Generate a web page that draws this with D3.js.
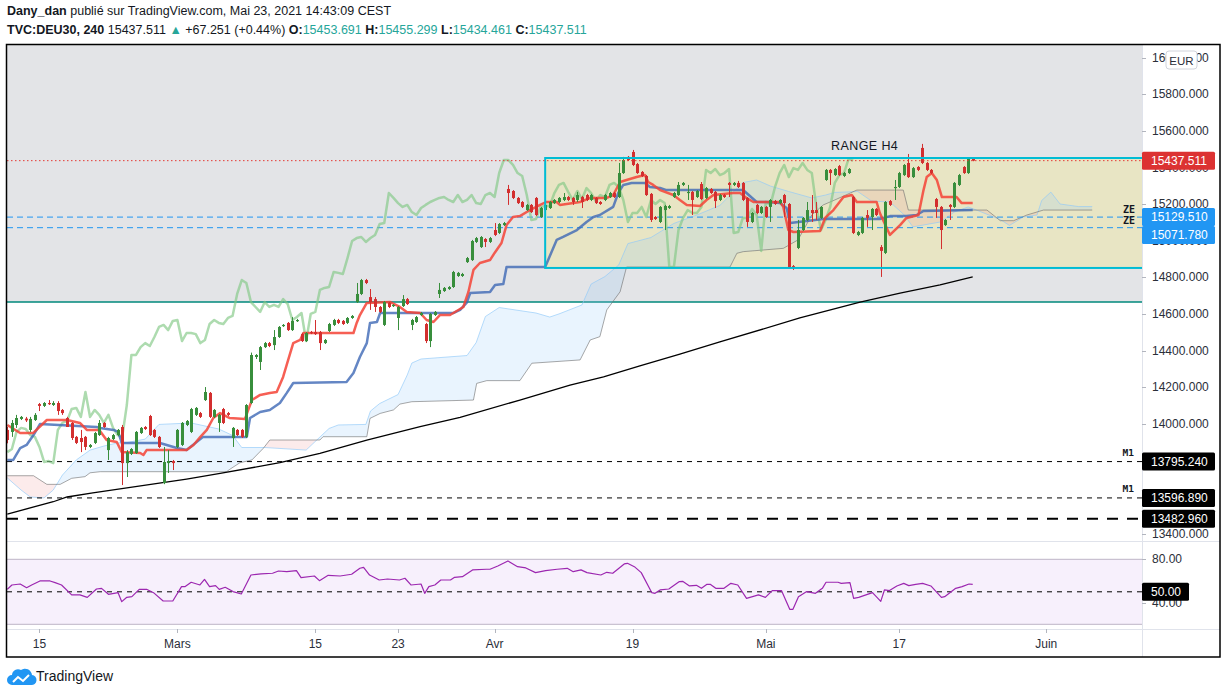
<!DOCTYPE html>
<html>
<head>
<meta charset="utf-8">
<title>TVC:DEU30 240</title>
<script src="https://cdn.jsdelivr.net/npm/d3@7/dist/d3.min.js"></script>
<style>
html,body{margin:0;padding:0;background:#fff;}
svg{display:block;}
</style>
</head>
<body>
<svg id="chart" width="1227" height="695"></svg>
<script>
// ---------------- DATA ----------------
const opens = [13968,13957,13995,14028,14030,13968,14022,14109,14099,14115,
14104,14115,14077,14033,14006,13930,13924,13930,13875,13897,
13940,14006,13858,13918,13940,13984,13787,13837,13842,13951,
13984,14044,13968,13930,13678,13787,13798,13875,13886,13995,
13957,14050,14060,14131,14170,14039,14006,14082,14060,13924,
13968,13968,13930,14115,14366,14339,14420,14442,14431,14475,
14535,14552,14513,14563,14491,14453,14502,14502,14502,14442,
14508,14541,14568,14563,14552,14579,14666,14710,14786,14693,
14682,14639,14541,14661,14645,14579,14644,14682,14541,14557,
14595,14546,14453,14595,14710,14726,14737,14748,14808,14808,
14884,14895,14994,14966,15010,14994,15059,15043,15086,15283,
15272,15234,15212,15168,15196,15234,15130,15168,15179,15206,
15212,15223,15239,15234,15223,15239,15250,15223,15234,15212,
15223,15239,15261,15239,15370,15458,15485,15419,15376,15354,
15256,15130,15103,15168,15179,15239,15250,15305,15261,15267,
15239,15310,15234,15283,15267,15223,15250,15316,15305,15316,
15316,15234,15103,15196,15152,15185,15185,15217,15206,15250,
15201,14862,14961,15059,15114,15168,15168,15125,15332,15387,
15359,15408,15354,15370,15239,15032,15043,15141,15130,15174,
14966,14934,15217,15288,15294,15359,15425,15348,15403,15507,
15425,15387,15228,15185,15086,15196,15185,15305,15403,15370,
15453.691];
const highs = [13984,14022,14050,14044,14039,14039,14060,14115,14120,14131,
14125,14125,14082,14039,14011,13935,13968,13935,13891,13957,
14022,14011,13930,13946,13973,13995,13858,13869,13962,13984,
13989,14050,13973,13935,13875,13858,13804,13973,14011,14022,
14088,14093,14066,14202,14175,14082,14055,14088,14066,13984,
13973,13973,14109,14390,14382,14426,14448,14448,14513,14535,
14546,14557,14584,14574,14497,14502,14508,14568,14508,14464,
14552,14574,14574,14568,14584,14595,14770,14792,14792,14737,
14693,14644,14672,14666,14655,14644,14704,14688,14574,14590,
14612,14552,14606,14617,14770,14748,14753,14836,14830,14825,
14912,15005,15021,15026,15015,15021,15097,15097,15103,15305,
15277,15239,15217,15201,15201,15239,15185,15201,15217,15228,
15239,15261,15245,15239,15267,15245,15256,15256,15239,15217,
15256,15267,15267,15425,15458,15463,15496,15425,15381,15359,
15261,15135,15190,15196,15196,15267,15321,15321,15305,15272,
15277,15321,15294,15288,15272,15256,15256,15321,15321,15327,
15321,15239,15157,15201,15190,15190,15228,15223,15228,15256,
15206,14868,15114,15130,15212,15250,15212,15190,15392,15392,
15397,15414,15376,15397,15245,15054,15130,15168,15179,15179,
14977,15217,15223,15332,15376,15419,15474,15403,15408,15529,
15430,15392,15234,15190,15119,15201,15321,15365,15408,15452,
15455.299];
const lows = [13895,13930,13979,14022,14011,13957,14017,14071,14093,14104,
14099,14050,14050,13984,13913,13891,13847,13858,13869,13891,
13935,13979,13804,13913,13935,13667,13711,13831,13837,13946,
13968,13935,13924,13869,13672,13733,13749,13869,13880,13989,
13951,14044,14033,14126,14033,14033,13957,14000,14044,13875,
13935,13924,13924,14109,14355,14295,14415,14420,14404,14470,
14530,14508,14508,14557,14448,14448,14491,14486,14404,14437,
14502,14535,14546,14541,14546,14574,14661,14704,14764,14623,
14612,14606,14535,14633,14639,14513,14639,14650,14513,14552,
14590,14442,14420,14590,14688,14721,14732,14743,14803,14803,
14879,14890,14988,14961,14966,14988,15026,15037,15081,15196,
15228,15201,15179,15163,15152,15135,15125,15163,15174,15201,
15206,15217,15217,15196,15212,15179,15217,15217,15201,15196,
15217,15234,15234,15234,15365,15436,15408,15365,15348,15245,
15103,15114,15097,15059,15174,15234,15245,15299,15223,15141,
15234,15223,15228,15256,15179,15217,15234,15239,15299,15288,
15217,15076,15097,15146,15146,15125,15103,15196,15201,15130,
14852,14841,14955,15054,15108,15103,15114,15119,15327,15305,
15354,15354,15348,15365,15037,15026,15037,15076,15059,15135,
14803,14928,15190,15223,15288,15354,15343,15343,15381,15419,
15381,15365,15125,14955,15081,15114,15179,15299,15365,15365,
15434.461];
const closes = [13913,14006,14033,14039,14020,14028,14050,14099,14115,14109,
14115,14071,14060,13984,13924,13897,13902,13875,13886,13951,
14006,13984,13924,13940,13968,13787,13847,13864,13957,13979,
13973,13940,13930,13875,13793,13798,13787,13968,14006,14017,
14082,14088,14039,14175,14039,14077,14050,14006,14050,13979,
13940,13930,14104,14377,14377,14420,14442,14426,14475,14530,
14541,14513,14563,14568,14453,14497,14497,14491,14442,14459,
14546,14568,14552,14546,14579,14590,14710,14786,14770,14666,
14639,14612,14666,14639,14650,14639,14682,14655,14568,14584,
14606,14453,14601,14612,14732,14743,14748,14830,14825,14819,
14906,14999,15015,15021,14994,15015,15032,15092,15097,15261,
15234,15206,15185,15196,15157,15141,15179,15196,15212,15223,
15234,15239,15223,15212,15250,15212,15223,15250,15206,15201,
15250,15261,15239,15370,15441,15441,15414,15370,15354,15250,
15114,15119,15185,15190,15190,15261,15305,15316,15267,15223,
15272,15228,15288,15261,15217,15250,15239,15305,15316,15294,
15223,15103,15152,15152,15185,15130,15223,15201,15223,15206,
14857,14857,15059,15125,15168,15152,15152,15185,15387,15370,
15392,15359,15370,15392,15043,15048,15125,15125,15174,15141,
14945,15212,15196,15294,15370,15414,15348,15397,15387,15425,
15387,15370,15185,15059,15114,15185,15316,15359,15370,15447,
15437.511];

// Ichimoku lines, read as [bar index, price]
const tenkan = [[0,13995],[2.8,13951],[5.6,13951],[8.6,14022],[13,14022],[15.8,14006],[17.3,13968],[20,13968],[21.6,13913],[23.8,13902],[24.9,13847],[28.9,13842],[29.6,13831],[30.3,13858],[39,13858],[40.5,13886],[42,13930],[43.4,13968],[44.8,14033],[46.3,14060],[48.4,14033],[51.7,14028],[53.2,14131],[55,14159],[57.1,14170],[58.6,14175],[60,14257],[61.1,14350],[62.2,14442],[63.7,14459],[64.4,14497],[75.3,14497],[76,14552],[76.7,14595],[78.2,14661],[83.3,14666],[85.4,14639],[86.9,14612],[89.8,14606],[91.2,14568],[92.7,14557],[94.1,14595],[96.3,14595],[99.2,14639],[100.3,14721],[101.4,14841],[102.8,14879],[105,14895],[106,14934],[107.5,14988],[108.6,15086],[110,15130],[111.5,15135],[113.7,15168],[115.9,15196],[117.3,15212],[119.5,15212],[120.2,15196],[124.6,15212],[126.8,15234],[130.4,15234],[131.8,15250],[133.3,15321],[134.7,15332],[136.9,15348],[138.7,15359],[139.4,15321],[140.5,15305],[142,15277],[144.9,15250],[146.3,15223],[147.8,15196],[150.7,15190],[152.1,15223],[153.6,15250],[157.9,15261],[159.4,15261],[160.8,15234],[162.3,15212],[168.1,15212],[168.8,15185],[169.9,15059],[171,15048],[176.8,15054],[177.9,15125],[179.7,15168],[181.9,15239],[183.7,15250],[184.8,15212],[189.1,15212],[189.8,15152],[192,15032],[194.2,15086],[195.6,15125],[198.2,15141],[199.3,15277],[200,15348],[201.1,15370],[202.2,15332],[203.3,15239],[206.5,15239],[207.6,15206],[210,15206]];
const kijun = [[0,13804],[1.3,13804],[2.8,13869],[4.2,13886],[5.7,13940],[7.1,14000],[19.4,13984],[20.2,13979],[23.1,13968],[24.1,13957],[24.9,13897],[33.2,13897],[36.9,13869],[39,13858],[42.6,13930],[52.1,13930],[52.8,14033],[55,14066],[57.1,14077],[59.3,14115],[60.8,14170],[62.2,14224],[73.8,14230],[75.3,14279],[76.7,14366],[78.2,14442],[78.9,14552],[80.4,14557],[81.1,14606],[97,14606],[98.5,14623],[99.9,14661],[100.7,14715],[105,14721],[106.1,14759],[107.9,14764],[108.6,14857],[117,14857],[119.5,15005],[120.9,15021],[123.9,15059],[126,15103],[127.5,15130],[128.9,15141],[131.8,15185],[132.9,15261],[134,15305],[135.8,15316],[138.7,15316],[139.8,15294],[142,15288],[143.4,15277],[160.1,15277],[160.8,15261],[163,15212],[165.2,15212],[168.1,15206],[169.5,15179],[170.3,15097],[177.5,15119],[189.8,15119],[192,15135],[195.6,15135],[197.8,15141],[199.3,15163],[210,15168]];
const senkouA = [[0,13706],[3,13640],[5,13602],[8,13597],[10,13640],[12,13722],[15,13804],[18,13858],[21,13880],[24,13897],[26,13899],[30,13918],[33,13998],[40,14006],[46,13973],[49,13938],[51,13872],[56,13872],[65,13858],[68,13929],[70,13976],[72,13995],[78,13998],[79,14071],[81,14112],[85,14161],[87,14268],[88,14333],[90,14355],[100,14374],[102,14445],[104,14587],[107,14636],[115,14606],[118,14584],[120,14601],[125,14650],[127,14764],[130,14805],[133,14868],[135,14985],[140,15018],[145,15095],[150,15141],[155,15193],[160,15318],[163,15332],[166,15299],[170,15269],[175,15234],[178,15250],[180,15264],[185,15269],[188,15217],[192,15212],[195,15144],[197,15076],[203,15103],[206,15157],[209,15185],[211,15166],[216,15116],[218,15084],[221,15130],[224,15141],[225,15220],[227,15266],[229,15201],[233,15187],[236,15187]];
const senkouB = [[0,13718],[5.7,13718],[8.6,13671],[11.5,13671],[14,13704],[16.9,13713],[18,13734],[20.2,13740],[47.7,13740],[48.4,13753],[50.6,13789],[53.2,13804],[55.7,13868],[57.1,13913],[68,13913],[68.7,13931],[78.2,13931],[78.9,14031],[81.1,14058],[84,14077],[85.4,14109],[88,14122],[101.4,14131],[102.1,14222],[104.3,14237],[111.5,14237],[114.1,14332],[124.6,14350],[126.8,14459],[128.9,14477],[130.4,14623],[133.3,14722],[134.7,14857],[157.2,14857],[158.7,14932],[160.1,14941],[168.8,14959],[172,15005],[175,15141],[177.5,15196],[180,15223],[184.8,15277],[194.9,15277],[196,15168],[213.1,15168],[216,15110],[218.9,15110],[221.8,15141],[225.4,15168],[236,15168]];
const movingAvg = [[0,13509],[10,13576],[13,13602],[18.6,13624],[39,13700],[46.3,13731],[59.3,13789],[68,13840],[78.2,13913],[89.8,13986],[98.5,14037],[111.5,14131],[122.4,14213],[129.7,14258],[137.6,14317],[146.3,14382],[155,14448],[172.4,14579],[185.5,14666],[194.2,14715],[202.9,14759],[210,14803]];
const rsi = [[0,52.3],[1,56.3],[2.8,57.2],[4.2,53.8],[5.3,56.3],[7.1,60],[9.3,60],[10.4,58.5],[11.8,56.3],[14,47.1],[15.8,47.1],[17.4,44.9],[19.4,52.6],[20.5,53.2],[22,47.7],[24.1,49.2],[24.9,40.9],[26,44.9],[27.1,45.5],[28.7,52.3],[30.3,52.3],[31.8,49.2],[33.9,41.5],[36,41.5],[37.9,54.8],[38.7,54.8],[40,58.8],[41.9,56.3],[42.9,61.5],[44,54.8],[45.3,55.7],[46.1,52.3],[47.4,54.2],[49.1,50.2],[50.9,48],[53,65.5],[55.2,66.5],[57.7,67.1],[59,69.2],[60.8,68.6],[62.9,69.5],[63.9,63.1],[66.8,64.6],[67.9,60.3],[69.8,65.2],[72.4,64.6],[74.9,66.2],[76.7,71.7],[77.5,72.6],[78.8,65.5],[80.9,60.9],[82.7,61.8],[85.3,60.9],[86.5,62.5],[87.8,56.3],[90,57.2],[90.8,48.6],[91.7,54.8],[93,56.3],[94.3,60.9],[96.4,60.9],[97.3,63.4],[99,64],[101.2,70.2],[104.2,70.8],[105,70.8],[106.7,73.8],[108.9,78.5],[111,73.2],[112.8,72],[114.9,67.7],[117.1,69.5],[119.6,70.8],[121.8,71.7],[123.1,68.6],[124.8,70.2],[126.1,67.7],[129.1,65.5],[130.4,68],[131.7,67.1],[134.2,75.7],[134.9,76.3],[136.4,73.2],[137.9,67.7],[140.2,49.2],[140.9,48.6],[142,51.7],[143.9,52.6],[146.2,59.4],[146.9,59.7],[148.4,55.4],[149.9,56],[151,53.2],[152.2,56.9],[152.9,56.9],[154.1,53.2],[155.9,53.2],[157.4,57.8],[158.9,56.3],[160.8,44],[163.4,47.1],[164.9,44.9],[166.4,51.1],[168.4,51.1],[170.2,33.8],[170.9,33.8],[172.1,45.5],[173.9,50.2],[175.8,48.6],[177.3,53.2],[178.1,58.8],[180.7,58.8],[181.4,57.8],[183.3,58.5],[184.1,44],[185.2,44.9],[188.2,49.2],[190,41.2],[190.8,51.7],[191.9,51.1],[193.5,55.4],[195,57.8],[196.1,55.7],[197.6,56.9],[199.1,57.8],[200.9,55.4],[203.2,44.9],[203.9,45.5],[206.3,53.2],[207.7,54.8],[209.2,57.2],[210,56.9]];

// drawings
const rangeBox = {start: 117, top: 15452, bottom: 14852, label: "RANGE H4", labelBar: 186.5, labelPrice: 15512};
const grayZoneBottom = 14666;
const zeLevels = [15129.51, 15071.78];
const m1Levels = [13795.24, 13596.89];
const thickLevel = 13482.96;
const lastPrice = 15437.511;
const priceTicks = d3.range(13400, 16001, 200);
const rsiTicks = [80, 40];
const timeLabels = ["15","Mars","15","23","Avr","19","Mai","17","Juin"];
const timeLabelBars = [7, 37, 67, 85, 106, 136, 165, 194, 226];

// ---------------- LAYOUT ----------------
const L = 7, R = 1142, TOP = 45, MAINB = 541, RSIB = 629, BOT = 657, RIGHT = 1220;
const FONT = "'Liberation Sans', Arial, sans-serif";
const UP = "#388e3c", DN = "#d32f2f";

const x = d3.scaleLinear().domain([0, 210]).range([7.3, 972.7]);
const y = d3.scaleLinear().domain([13400, 16000]).range([534, 57.6]);
const yr = d3.scaleLinear().domain([20, 80]).range([624.3, 559.3]);

const svg = d3.select("#chart").style("font-family", FONT);
svg.append("rect").attr("width", 1227).attr("height", 695).attr("fill", "#fff");

const defs = svg.append("defs");
defs.append("clipPath").attr("id", "mainClip").append("rect")
  .attr("x", L).attr("y", TOP).attr("width", R - L).attr("height", MAINB - TOP);
defs.append("clipPath").attr("id", "rsiClip").append("rect")
  .attr("x", L).attr("y", MAINB).attr("width", R - L).attr("height", RSIB - MAINB);
const areaToTop = d3.area().x(d => x(d[0])).y0(TOP - 30).y1(d => y(d[1]));
const areaToBottom = d3.area().x(d => x(d[0])).y0(MAINB + 30).y1(d => y(d[1]));
defs.append("clipPath").attr("id", "aboveB").append("path").attr("d", areaToTop(senkouB));
defs.append("clipPath").attr("id", "aboveA").append("path").attr("d", areaToTop(senkouA));

const line = d3.line().x(d => x(d[0])).y(d => y(d[1]));

const main = svg.append("g").attr("clip-path", "url(#mainClip)");

// gray zone drawing
main.append("rect").attr("x", L).attr("y", TOP).attr("width", R - L)
  .attr("height", y(grayZoneBottom) - TOP).attr("fill", "#e3e4e7");
main.append("line").attr("x1", L).attr("x2", R).attr("y1", y(grayZoneBottom)).attr("y2", y(grayZoneBottom))
  .attr("stroke", "#00897b").attr("stroke-width", 1.5);

// range box fill
main.append("rect").attr("x", x(rangeBox.start)).attr("y", y(rangeBox.top))
  .attr("width", R + 10 - x(rangeBox.start)).attr("height", y(rangeBox.bottom) - y(rangeBox.top))
  .attr("fill", "rgba(255,235,59,0.2)");

// cloud
main.append("path").attr("d", areaToBottom(senkouA)).attr("fill", "rgba(144,202,249,0.2)").attr("clip-path", "url(#aboveB)");
main.append("path").attr("d", areaToBottom(senkouB)).attr("fill", "rgba(239,154,154,0.2)").attr("clip-path", "url(#aboveA)");
main.append("path").attr("d", line(senkouA)).attr("fill", "none").attr("stroke", "rgba(144,202,249,0.65)").attr("stroke-width", 1);
main.append("path").attr("d", line(senkouB)).attr("fill", "none").attr("stroke", "rgba(110,110,110,0.6)").attr("stroke-width", 1);

// moving average
main.append("path").attr("d", line(movingAvg)).attr("fill", "none").attr("stroke", "#000").attr("stroke-width", 1.3);

// horizontal levels
zeLevels.forEach(v => main.append("line").attr("x1", L).attr("x2", R).attr("y1", y(v)).attr("y2", y(v))
  .attr("stroke", "#2196f3").attr("stroke-width", 1).attr("stroke-dasharray", "6,4"));
m1Levels.forEach(v => main.append("line").attr("x1", L).attr("x2", R).attr("y1", y(v)).attr("y2", y(v))
  .attr("stroke", "#000").attr("stroke-width", 1).attr("stroke-dasharray", "5,5"));
main.append("line").attr("x1", L).attr("x2", R).attr("y1", y(thickLevel)).attr("y2", y(thickLevel))
  .attr("stroke", "#000").attr("stroke-width", 2).attr("stroke-dasharray", "11,9");

// chikou (close shifted back 26 bars)
const chikou = d3.range(0, closes.length - 26).map(j => [j, closes[j + 26]]);
main.append("path").attr("d", line(chikou)).attr("fill", "none").attr("stroke", "#81c784")
  .attr("stroke-opacity", 0.65).attr("stroke-width", 2.5).attr("stroke-linejoin", "round");
main.append("path").attr("d", line(kijun)).attr("fill", "none").attr("stroke", "#3d68b5")
  .attr("stroke-opacity", 0.8).attr("stroke-width", 2.5).attr("stroke-linejoin", "round");
main.append("path").attr("d", line(tenkan)).attr("fill", "none").attr("stroke", "#f44336")
  .attr("stroke-opacity", 0.85).attr("stroke-width", 2.5).attr("stroke-linejoin", "round");

// candles
const bars = closes.map((c, i) => ({i, o: opens[i], h: highs[i], l: lows[i], c}));
const cg = main.append("g");
cg.selectAll("line").data(bars).join("line")
  .attr("x1", d => Math.round(x(d.i)) + 0.5).attr("x2", d => Math.round(x(d.i)) + 0.5)
  .attr("y1", d => y(d.h)).attr("y2", d => y(d.l))
  .attr("stroke", d => d.c >= d.o ? UP : DN).attr("stroke-width", 1);
cg.selectAll("rect").data(bars).join("rect")
  .attr("x", d => Math.round(x(d.i)) - 1).attr("width", 3)
  .attr("y", d => y(Math.max(d.o, d.c)))
  .attr("height", d => Math.max(1.2, Math.abs(y(d.o) - y(d.c))))
  .attr("fill", d => d.c >= d.o ? UP : DN);

// range box border
main.append("rect").attr("x", x(rangeBox.start)).attr("y", y(rangeBox.top))
  .attr("width", R + 10 - x(rangeBox.start)).attr("height", y(rangeBox.bottom) - y(rangeBox.top))
  .attr("fill", "none").attr("stroke", "#00bcd4").attr("stroke-width", 2);

// last price dotted line
main.append("line").attr("x1", L).attr("x2", R).attr("y1", y(lastPrice)).attr("y2", y(lastPrice))
  .attr("stroke", "#e53935").attr("stroke-width", 1).attr("stroke-dasharray", "1.5,2.5");

// drawing texts
main.append("text").attr("x", x(rangeBox.labelBar)).attr("y", y(rangeBox.labelPrice))
  .attr("text-anchor", "middle").attr("dominant-baseline", "middle")
  .attr("font-size", 12.5).attr("letter-spacing", 0.4).attr("fill", "#131722").text(rangeBox.label);
zeLevels.forEach(v => main.append("text").attr("x", R - 7).attr("y", y(v) - 4)
  .attr("text-anchor", "end").attr("font-size", 10).attr("font-weight", "bold")
  .attr("font-family", "'DejaVu Sans Mono', monospace").attr("fill", "#131722").text("ZE"));
m1Levels.forEach(v => main.append("text").attr("x", R - 8).attr("y", y(v) - 5.5)
  .attr("text-anchor", "end").attr("font-size", 9.5).attr("font-weight", "bold")
  .attr("font-family", "'DejaVu Sans Mono', monospace").attr("fill", "#131722").text("M1"));

// ---------------- RSI PANE ----------------
const rsiG = svg.append("g").attr("clip-path", "url(#rsiClip)");
rsiG.append("rect").attr("x", L).attr("y", yr(80)).attr("width", R - L).attr("height", yr(20) - yr(80)).attr("fill", "#f7f0fc");
[80, 20].forEach(v => rsiG.append("line").attr("x1", L).attr("x2", R).attr("y1", yr(v)).attr("y2", yr(v))
  .attr("stroke", "#bdb5c6").attr("stroke-width", 1));
rsiG.append("line").attr("x1", L).attr("x2", R).attr("y1", yr(50)).attr("y2", yr(50))
  .attr("stroke", "#000").attr("stroke-width", 1).attr("stroke-dasharray", "5,5");
rsiG.append("path").attr("d", d3.line().x(d => x(d[0])).y(d => yr(d[1]))(rsi))
  .attr("fill", "none").attr("stroke", "#9c27b0").attr("stroke-width", 1.2).attr("stroke-linejoin", "round");

// ---------------- FRAME ----------------
svg.append("line").attr("x1", R + 0.5).attr("x2", R + 0.5).attr("y1", TOP).attr("y2", BOT).attr("stroke", "#e0e3eb");
[MAINB, RSIB].forEach(v => svg.append("line").attr("x1", L).attr("x2", RIGHT).attr("y1", v + 0.5).attr("y2", v + 0.5).attr("stroke", "#e0e3eb"));

// ---------------- PRICE AXIS ----------------
const fmt3 = d3.format(".3f"), fmt2 = d3.format(".2f");
const axG = svg.append("g");
priceTicks.forEach(v => {
  axG.append("line").attr("x1", R).attr("x2", R + 4).attr("y1", Math.round(y(v)) + 0.5).attr("y2", Math.round(y(v)) + 0.5).attr("stroke", "#b2b5be");
  axG.append("text").attr("x", R + 10).attr("y", y(v)).attr("dominant-baseline", "central")
    .attr("font-size", 12).attr("fill", "#2a2e39").text(fmt3(v));
});
rsiTicks.forEach(v => {
  axG.append("line").attr("x1", R).attr("x2", R + 4).attr("y1", Math.round(yr(v)) + 0.5).attr("y2", Math.round(yr(v)) + 0.5).attr("stroke", "#b2b5be");
  axG.append("text").attr("x", R + 10).attr("y", yr(v)).attr("dominant-baseline", "central")
    .attr("font-size", 12).attr("fill", "#2a2e39").text(fmt2(v));
});

// price tags with simple collision avoidance
const tags = [
  {v: lastPrice, bg: "#dc3232"},
  {v: zeLevels[0], bg: "#2196f3"},
  {v: zeLevels[1], bg: "#2196f3"},
  {v: m1Levels[0], bg: "#000"},
  {v: m1Levels[1], bg: "#000"},
  {v: thickLevel, bg: "#000"}
].map(t => ({...t, py: y(t.v)})).sort((a, b) => a.py - b.py);
for (let k = 1; k < tags.length; k++) {
  if (tags[k].py < tags[k - 1].py + 18) tags[k].py = tags[k - 1].py + 18;
}
tags.forEach(t => {
  axG.append("rect").attr("x", R).attr("y", t.py - 9).attr("width", 73).attr("height", 18).attr("rx", 1.5).attr("fill", t.bg);
  axG.append("text").attr("x", R + 9).attr("y", t.py).attr("dominant-baseline", "central")
    .attr("font-size", 12).attr("fill", "#fff").text(fmt3(t.v));
});
axG.append("rect").attr("x", R).attr("y", yr(50) - 9).attr("width", 47).attr("height", 18).attr("rx", 1.5).attr("fill", "#000");
axG.append("text").attr("x", R + 9).attr("y", yr(50)).attr("dominant-baseline", "central")
  .attr("font-size", 12).attr("fill", "#fff").text(fmt2(50));

// currency box
axG.append("rect").attr("x", 1166).attr("y", 51).attr("width", 31).attr("height", 18).attr("rx", 3)
  .attr("fill", "#fff").attr("stroke", "#d1d4dc");
axG.append("text").attr("x", 1181.5).attr("y", 60.5).attr("text-anchor", "middle").attr("dominant-baseline", "central")
  .attr("font-size", 11.5).attr("fill", "#2a2e39").text("EUR");

// ---------------- TIME AXIS ----------------
timeLabels.forEach((t, k) => {
  const px = x(timeLabelBars[k]);
  svg.append("line").attr("x1", Math.round(px) + 0.5).attr("x2", Math.round(px) + 0.5).attr("y1", RSIB).attr("y2", RSIB + 4).attr("stroke", "#b2b5be");
  svg.append("text").attr("x", px).attr("y", 644).attr("text-anchor", "middle").attr("dominant-baseline", "central")
    .attr("font-size", 12).attr("fill", "#2a2e39").text(t);
});

// outer border
svg.append("rect").attr("x", 6.5).attr("y", 44.5).attr("width", RIGHT - 6.5).attr("height", BOT - 44.5)
  .attr("fill", "none").attr("stroke", "#000").attr("stroke-width", 1.5);

// ---------------- HEADER ----------------
const teal = "#26a69a";
const h1 = svg.append("text").attr("x", 7).attr("y", 15).attr("font-size", 12.5).attr("fill", "#131722");
h1.append("tspan").attr("font-weight", "bold").text("Dany_dan");
h1.append("tspan").text(" publié sur TradingView.com, Mai 23, 2021 14:43:09 CEST");
const last = bars[bars.length - 1];
const h2 = svg.append("text").attr("x", 7).attr("y", 34).attr("font-size", 12.5).attr("fill", "#131722");
h2.append("tspan").attr("font-weight", "bold").text("TVC:DEU30, 240");
h2.append("tspan").text("  " + fmt3(last.c) + " ");
h2.append("tspan").attr("fill", teal).text("▲");
h2.append("tspan").text(" +67.251 (+0.44%) ");
[["O:", last.o], [" H:", last.h], [" L:", last.l], [" C:", last.c]].forEach(([k, v]) => {
  h2.append("tspan").attr("font-weight", "bold").text(k);
  h2.append("tspan").attr("fill", teal).text(fmt3(v));
});

// ---------------- FOOTER ----------------
const logo = svg.append("g").attr("transform", "translate(9,666)");
logo.append("path").attr("d", "M3,19 L22,19 A5,5 0 0 0 23,9 A7,7 0 0 0 12,4 A6,6 0 0 0 3,9 A5,5 0 0 0 3,19 Z").attr("fill", "#2196f3");
logo.append("polyline").attr("points", "4,16 9,11 14,15 20,9").attr("fill", "none").attr("stroke", "#fff").attr("stroke-width", 2);
svg.append("text").attr("x", 36).attr("y", 681).attr("font-size", 14).attr("fill", "#131722").text("TradingView");
</script>
</body>
</html>
